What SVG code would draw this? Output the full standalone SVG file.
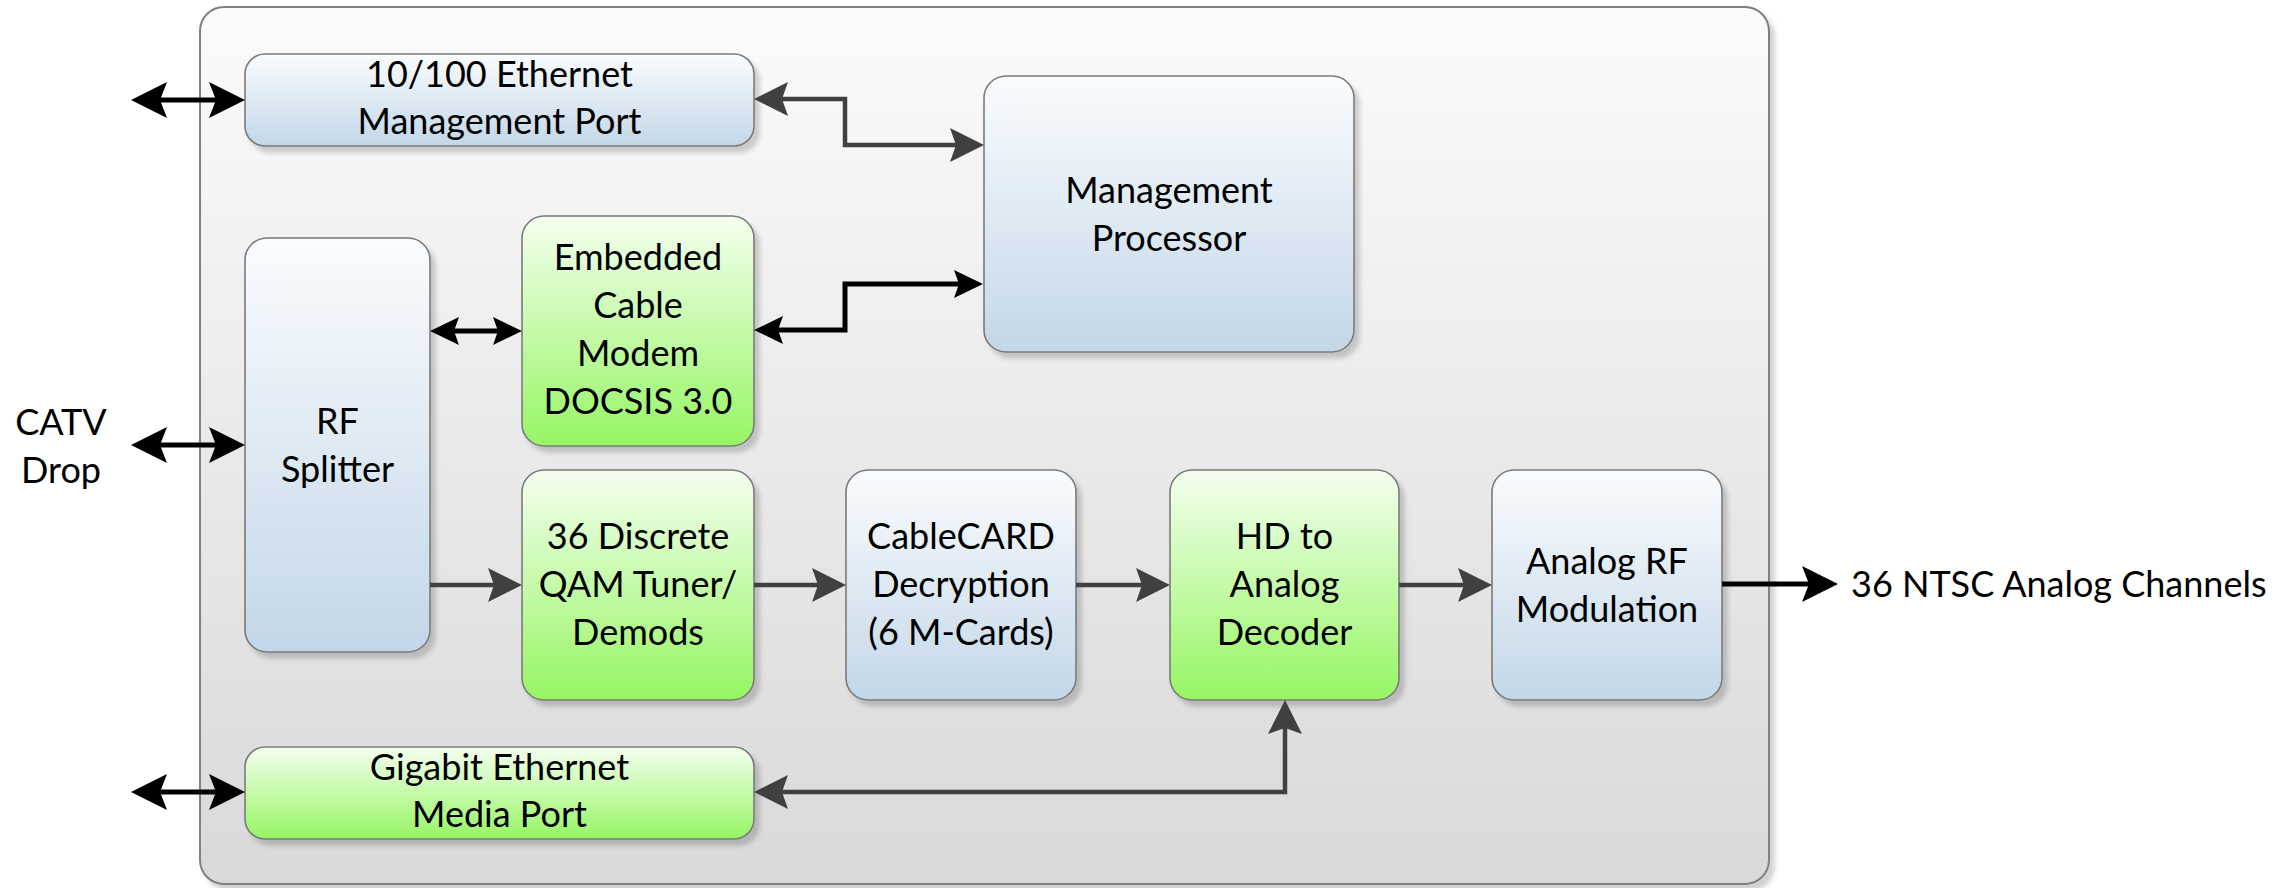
<svg xmlns="http://www.w3.org/2000/svg" width="2287" height="888" viewBox="0 0 2287 888">
  <defs>
    <linearGradient id="gOuter" x1="0" y1="0" x2="0" y2="1">
      <stop offset="0" stop-color="#fbfbfb"/>
      <stop offset="1" stop-color="#d9d9d9"/>
    </linearGradient>
    <linearGradient id="gBlue" x1="0" y1="0" x2="0" y2="1">
      <stop offset="0" stop-color="#fafcfe"/>
      <stop offset="1" stop-color="#c3d7e8"/>
    </linearGradient>
    <linearGradient id="gGreen" x1="0" y1="0" x2="0" y2="1">
      <stop offset="0" stop-color="#f4ffef"/>
      <stop offset="1" stop-color="#96f563"/>
    </linearGradient>
    <filter id="shadow" x="-10%" y="-10%" width="125%" height="125%">
      <feGaussianBlur in="SourceAlpha" stdDeviation="2.5"/>
      <feOffset dx="5" dy="6" result="b"/>
      <feComponentTransfer><feFuncA type="linear" slope="0.18"/></feComponentTransfer>
      <feMerge><feMergeNode/><feMergeNode in="SourceGraphic"/></feMerge>
    </filter>
    <!-- arrowheads: tip at far end, slight notch at the back -->
    <marker id="hGray" viewBox="0 -18 34 36" refX="6" refY="0" markerWidth="34" markerHeight="36" markerUnits="userSpaceOnUse" orient="auto-start-reverse">
      <path d="M0,-17 L34,0 L0,17 L6,0 Z" fill="#404040"/>
    </marker>
    <marker id="hBlack" viewBox="0 -15 29 30" refX="5" refY="0" markerWidth="29" markerHeight="30" markerUnits="userSpaceOnUse" orient="auto-start-reverse">
      <path d="M0,-14 L29,0 L0,14 L5,0 Z" fill="#000"/>
    </marker>
    <marker id="hBig" viewBox="0 -19 36 38" refX="7" refY="0" markerWidth="36" markerHeight="38" markerUnits="userSpaceOnUse" orient="auto-start-reverse">
      <path d="M0,-18 L36,0 L0,18 L7,0 Z" fill="#000"/>
    </marker>
    <style>
      .box { stroke: #7a7a7a; stroke-width: 1.6; filter: url(#shadow); }
      .blue { fill: url(#gBlue); }
      .green { fill: url(#gGreen); }
      text { font-family: Lato, "Open Sans", "Liberation Sans", sans-serif; font-size: 36px; fill: #000; text-anchor: middle; }
      .gray { fill: none; stroke: #404040; stroke-width: 4.5; }
      .blk { fill: none; stroke: #000; stroke-width: 5; }
      .ext { fill: none; stroke: #000; stroke-width: 5; }
    </style>
  </defs>

  <rect width="2287" height="888" fill="#fff"/>

  <!-- enclosure -->
  <g id="enclosure">
    <rect x="200" y="7" width="1569" height="877" rx="24" fill="url(#gOuter)" stroke="#808080" stroke-width="2" filter="url(#shadow)"/>
  </g>

  <!-- nodes -->
  <g id="mgmt-port">
    <rect class="box blue" x="245" y="54" width="509" height="92" rx="20"/>
    <text x="499.5" y="87">10/100 Ethernet</text>
    <text x="499.5" y="134">Management Port</text>
  </g>
  <g id="mgmt-processor">
    <rect class="box blue" x="984" y="76" width="370" height="276" rx="22"/>
    <text x="1169" y="203">Management</text>
    <text x="1169" y="251">Processor</text>
  </g>
  <g id="rf-splitter">
    <rect class="box blue" x="245" y="238" width="185" height="414" rx="22"/>
    <text x="337.5" y="434">RF</text>
    <text x="337.5" y="482">Splitter</text>
  </g>
  <g id="cable-modem">
    <rect class="box green" x="522" y="216" width="232" height="230" rx="22"/>
    <text x="638" y="270">Embedded</text>
    <text x="638" y="318">Cable</text>
    <text x="638" y="366">Modem</text>
    <text x="638" y="414">DOCSIS 3.0</text>
  </g>
  <g id="qam-tuner">
    <rect class="box green" x="522" y="470" width="232" height="230" rx="22"/>
    <text x="638" y="549">36 Discrete</text>
    <text x="638" y="597">QAM Tuner/</text>
    <text x="638" y="645">Demods</text>
  </g>
  <g id="cablecard">
    <rect class="box blue" x="846" y="470" width="230" height="230" rx="22"/>
    <text x="961" y="549">CableCARD</text>
    <text x="961" y="597">Decryption</text>
    <text x="961" y="645">(6 M-Cards)</text>
  </g>
  <g id="hd-decoder">
    <rect class="box green" x="1170" y="470" width="229" height="230" rx="22"/>
    <text x="1284.5" y="549">HD to</text>
    <text x="1284.5" y="597">Analog</text>
    <text x="1284.5" y="645">Decoder</text>
  </g>
  <g id="rf-modulation">
    <rect class="box blue" x="1492" y="470" width="230" height="230" rx="22"/>
    <text x="1607" y="574">Analog RF</text>
    <text x="1607" y="622">Modulation</text>
  </g>
  <g id="gige-port">
    <rect class="box green" x="245" y="747" width="509" height="92" rx="20"/>
    <text x="499.5" y="780">Gigabit Ethernet</text>
    <text x="499.5" y="827">Media Port</text>
  </g>

  <!-- outside labels -->
  <g id="catv-label">
    <text x="61" y="435">CATV</text>
    <text x="61" y="483">Drop</text>
  </g>
  <g id="output-label">
    <text x="1851" y="597" style="text-anchor:start">36 NTSC Analog Channels</text>
  </g>

  <!-- connectors -->
  <g id="connectors">
    <!-- external ports -->
    <path class="ext" d="M160,100 H216" marker-start="url(#hBig)" marker-end="url(#hBig)"/>
    <path class="ext" d="M160,445 H216" marker-start="url(#hBig)" marker-end="url(#hBig)"/>
    <path class="ext" d="M160,792 H216" marker-start="url(#hBig)" marker-end="url(#hBig)"/>
    <!-- management links -->
    <path class="gray" d="M782,99 H845 V145 H956" marker-start="url(#hGray)" marker-end="url(#hGray)"/>
    <path class="blk" d="M778,330 H845 V284 H959" marker-start="url(#hBlack)" marker-end="url(#hBlack)"/>
    <!-- splitter to modem -->
    <path class="blk" d="M454,331 H498" marker-start="url(#hBlack)" marker-end="url(#hBlack)"/>
    <!-- video chain -->
    <path class="gray" d="M430,585 H494" marker-end="url(#hGray)"/>
    <path class="gray" d="M754,585 H818" marker-end="url(#hGray)"/>
    <path class="gray" d="M1076,585 H1142" marker-end="url(#hGray)"/>
    <path class="gray" d="M1399,585 H1464" marker-end="url(#hGray)"/>
    <path class="ext" d="M1722,584 H1809" marker-end="url(#hBig)"/>
    <!-- media port to decoder -->
    <path class="gray" d="M782,792 H1285 V728" marker-start="url(#hGray)" marker-end="url(#hGray)"/>
  </g>
</svg>
